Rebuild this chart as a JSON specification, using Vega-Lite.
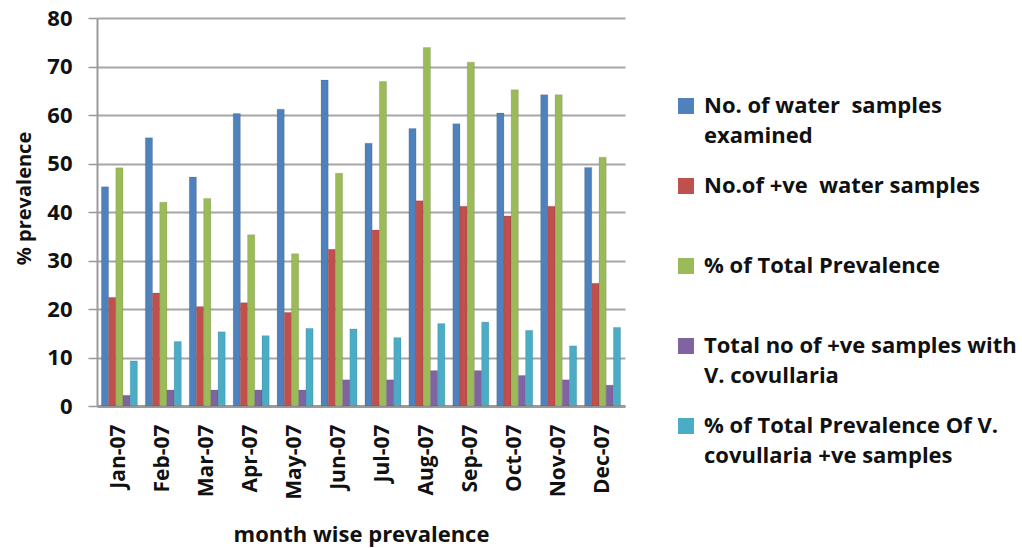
{
  "$schema": "https://vega.github.io/schema/vega-lite/v6.json",
  "autosize": "none",
  "width": 528,
  "height": 388,
  "padding": {"left": 97, "top": 18, "right": 397, "bottom": 142},
  "background": "white",
  "config": {
    "font": "Open Sans",
    "view": {"stroke": null},
    "style": {"guide-label": {"lineHeight": 30}}
  },
  "data": {
    "values": [
      {"month": "Jan-07", "series": "No. of water  samples examined", "value": 45.2},
      {"month": "Jan-07", "series": "No.of +ve  water samples", "value": 22.4},
      {"month": "Jan-07", "series": "% of Total Prevalence", "value": 49.1},
      {"month": "Jan-07", "series": "Total no of +ve samples with V. covullaria", "value": 2.2},
      {"month": "Jan-07", "series": "% of Total Prevalence Of V. covullaria +ve samples", "value": 9.3},
      {"month": "Feb-07", "series": "No. of water  samples examined", "value": 55.3},
      {"month": "Feb-07", "series": "No.of +ve  water samples", "value": 23.3},
      {"month": "Feb-07", "series": "% of Total Prevalence", "value": 42.0},
      {"month": "Feb-07", "series": "Total no of +ve samples with V. covullaria", "value": 3.3},
      {"month": "Feb-07", "series": "% of Total Prevalence Of V. covullaria +ve samples", "value": 13.3},
      {"month": "Mar-07", "series": "No. of water  samples examined", "value": 47.2},
      {"month": "Mar-07", "series": "No.of +ve  water samples", "value": 20.5},
      {"month": "Mar-07", "series": "% of Total Prevalence", "value": 42.8},
      {"month": "Mar-07", "series": "Total no of +ve samples with V. covullaria", "value": 3.3},
      {"month": "Mar-07", "series": "% of Total Prevalence Of V. covullaria +ve samples", "value": 15.3},
      {"month": "Apr-07", "series": "No. of water  samples examined", "value": 60.3},
      {"month": "Apr-07", "series": "No.of +ve  water samples", "value": 21.3},
      {"month": "Apr-07", "series": "% of Total Prevalence", "value": 35.3},
      {"month": "Apr-07", "series": "Total no of +ve samples with V. covullaria", "value": 3.3},
      {"month": "Apr-07", "series": "% of Total Prevalence Of V. covullaria +ve samples", "value": 14.5},
      {"month": "May-07", "series": "No. of water  samples examined", "value": 61.2},
      {"month": "May-07", "series": "No.of +ve  water samples", "value": 19.3},
      {"month": "May-07", "series": "% of Total Prevalence", "value": 31.4},
      {"month": "May-07", "series": "Total no of +ve samples with V. covullaria", "value": 3.3},
      {"month": "May-07", "series": "% of Total Prevalence Of V. covullaria +ve samples", "value": 16.0},
      {"month": "Jun-07", "series": "No. of water  samples examined", "value": 67.2},
      {"month": "Jun-07", "series": "No.of +ve  water samples", "value": 32.3},
      {"month": "Jun-07", "series": "% of Total Prevalence", "value": 48.0},
      {"month": "Jun-07", "series": "Total no of +ve samples with V. covullaria", "value": 5.4},
      {"month": "Jun-07", "series": "% of Total Prevalence Of V. covullaria +ve samples", "value": 15.9},
      {"month": "Jul-07", "series": "No. of water  samples examined", "value": 54.2},
      {"month": "Jul-07", "series": "No.of +ve  water samples", "value": 36.3},
      {"month": "Jul-07", "series": "% of Total Prevalence", "value": 66.9},
      {"month": "Jul-07", "series": "Total no of +ve samples with V. covullaria", "value": 5.4},
      {"month": "Jul-07", "series": "% of Total Prevalence Of V. covullaria +ve samples", "value": 14.1},
      {"month": "Aug-07", "series": "No. of water  samples examined", "value": 57.2},
      {"month": "Aug-07", "series": "No.of +ve  water samples", "value": 42.3},
      {"month": "Aug-07", "series": "% of Total Prevalence", "value": 73.9},
      {"month": "Aug-07", "series": "Total no of +ve samples with V. covullaria", "value": 7.3},
      {"month": "Aug-07", "series": "% of Total Prevalence Of V. covullaria +ve samples", "value": 17.0},
      {"month": "Sep-07", "series": "No. of water  samples examined", "value": 58.2},
      {"month": "Sep-07", "series": "No.of +ve  water samples", "value": 41.2},
      {"month": "Sep-07", "series": "% of Total Prevalence", "value": 70.9},
      {"month": "Sep-07", "series": "Total no of +ve samples with V. covullaria", "value": 7.3},
      {"month": "Sep-07", "series": "% of Total Prevalence Of V. covullaria +ve samples", "value": 17.3},
      {"month": "Oct-07", "series": "No. of water  samples examined", "value": 60.4},
      {"month": "Oct-07", "series": "No.of +ve  water samples", "value": 39.2},
      {"month": "Oct-07", "series": "% of Total Prevalence", "value": 65.2},
      {"month": "Oct-07", "series": "Total no of +ve samples with V. covullaria", "value": 6.3},
      {"month": "Oct-07", "series": "% of Total Prevalence Of V. covullaria +ve samples", "value": 15.6},
      {"month": "Nov-07", "series": "No. of water  samples examined", "value": 64.2},
      {"month": "Nov-07", "series": "No.of +ve  water samples", "value": 41.2},
      {"month": "Nov-07", "series": "% of Total Prevalence", "value": 64.2},
      {"month": "Nov-07", "series": "Total no of +ve samples with V. covullaria", "value": 5.4},
      {"month": "Nov-07", "series": "% of Total Prevalence Of V. covullaria +ve samples", "value": 12.4},
      {"month": "Dec-07", "series": "No. of water  samples examined", "value": 49.2},
      {"month": "Dec-07", "series": "No.of +ve  water samples", "value": 25.3},
      {"month": "Dec-07", "series": "% of Total Prevalence", "value": 51.3},
      {"month": "Dec-07", "series": "Total no of +ve samples with V. covullaria", "value": 4.3},
      {"month": "Dec-07", "series": "% of Total Prevalence Of V. covullaria +ve samples", "value": 16.2}
    ]
  },
  "mark": {"type": "bar", "stroke": "#2b2b2b", "strokeOpacity": 0.25, "strokeWidth": 0.5},
  "encoding": {
    "x": {
      "field": "month",
      "type": "nominal",
      "sort": null,
      "scale": {"paddingInner": 0.18, "paddingOuter": 0.1},
      "axis": {
        "title": "month wise prevalence",
        "titleFont": "Open Sans",
        "titleFontSize": 22,
        "titleFontWeight": "bold",
        "titleColor": "#111",
        "titlePadding": 25,
        "labelAngle": -90,
        "labelFont": "Open Sans",
        "labelFontSize": 21,
        "labelFontWeight": "bold",
        "labelColor": "#111",
        "labelPadding": 18,
        "ticks": false,
        "domainColor": "#9a9a9a",
        "domainWidth": 3
      }
    },
    "xOffset": {"field": "series", "type": "nominal", "sort": null},
    "y": {
      "field": "value",
      "type": "quantitative",
      "scale": {"domain": [0, 80], "nice": false},
      "axis": {
        "title": "% prevalence",
        "titleFont": "Open Sans",
        "titleFontSize": 20,
        "titleFontWeight": "bold",
        "titleColor": "#111",
        "titlePadding": 12,
        "titleY": 180,
        "values": [0, 10, 20, 30, 40, 50, 60, 70, 80],
        "labelFont": "Open Sans",
        "labelFontSize": 22,
        "labelFontWeight": "bold",
        "labelColor": "#111",
        "labelPadding": 16,
        "tickSize": 9,
        "tickColor": "#9a9a9a",
        "tickWidth": 1.5,
        "grid": true,
        "gridColor": "#a6a6a6",
        "gridWidth": 2,
        "domainColor": "#9a9a9a",
        "domainWidth": 2
      }
    },
    "color": {
      "field": "series",
      "type": "nominal",
      "sort": null,
      "scale": {
        "domain": [
          "No. of water  samples examined",
          "No.of +ve  water samples",
          "% of Total Prevalence",
          "Total no of +ve samples with V. covullaria",
          "% of Total Prevalence Of V. covullaria +ve samples"
        ],
        "range": ["#4F81BD", "#C0504D", "#9BBB59", "#8064A2", "#4BACC6"]
      },
      "legend": {
        "title": null,
        "orient": "none",
        "legendX": 578,
        "legendY": 77,
        "symbolType": "square",
        "symbolSize": 256,
        "symbolStrokeWidth": 0,
        "labelFont": "Open Sans",
        "labelFontSize": 22,
        "labelFontWeight": "bold",
        "labelColor": "#111",
        "labelLimit": 400,
        "labelOffset": 7,
        "labelExpr": "datum.label == 'No. of water  samples examined' ? ['No. of water\u00a0 samples', 'examined'] : datum.label == 'No.of +ve  water samples' ? 'No.of +ve\u00a0 water samples' : datum.label == 'Total no of +ve samples with V. covullaria' ? ['Total no of +ve samples with', 'V. covullaria'] : datum.label == '% of Total Prevalence Of V. covullaria +ve samples' ? ['% of Total Prevalence Of V.', 'covullaria +ve samples'] : datum.label",
        "gridAlign": "all",
        "rowPadding": 28
      }
    }
  }
}
